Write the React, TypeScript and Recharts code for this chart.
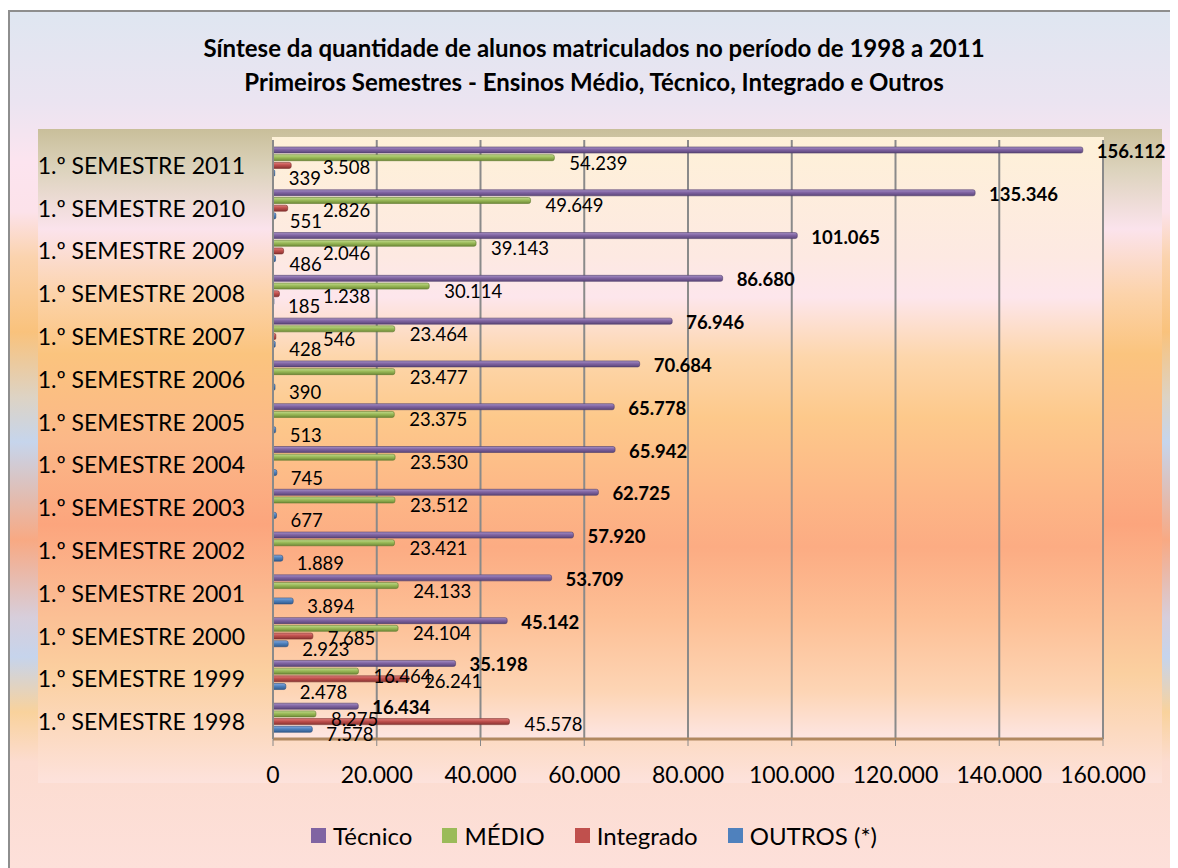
import { Bar, BarChart, CartesianGrid, LabelList, Legend, XAxis, YAxis } from "recharts"

const categories = [
  "1.º SEMESTRE 1998",
  "1.º SEMESTRE 1999",
  "1.º SEMESTRE 2000",
  "1.º SEMESTRE 2001",
  "1.º SEMESTRE 2002",
  "1.º SEMESTRE 2003",
  "1.º SEMESTRE 2004",
  "1.º SEMESTRE 2005",
  "1.º SEMESTRE 2006",
  "1.º SEMESTRE 2007",
  "1.º SEMESTRE 2008",
  "1.º SEMESTRE 2009",
  "1.º SEMESTRE 2010",
  "1.º SEMESTRE 2011",
]
const tecnico = [16434, 35198, 45142, 53709, 57920, 62725, 65942, 65778, 70684, 76946, 86680, 101065, 135346, 156112]
const medio = [8275, 16464, 24104, 24133, 23421, 23512, 23530, 23375, 23477, 23464, 30114, 39143, 49649, 54239]
const integrado = [45578, 26241, 7685, null, null, null, null, null, null, 546, 1238, 2046, 2826, 3508]
const outros = [7578, 2478, 2923, 3894, 1889, 677, 745, 513, 390, 428, 185, 486, 551, 339]
const xTicks = [0, 20000, 40000, 60000, 80000, 100000, 120000, 140000, 160000]

const data = categories.map((cat, i) => ({
  cat,
  tecnico: tecnico[i],
  medio: medio[i],
  integrado: integrado[i],
  outros: outros[i],
}))

const series = [
  { key: "tecnico", name: "Técnico", color: "#8064A2", light: "#a690c6", dark: "#5b4679", stroke: "#4e3c69" },
  { key: "medio", name: "MÉDIO", color: "#9BBB59", light: "#c2da8e", dark: "#6f8b38", stroke: "#5e7a2e" },
  { key: "integrado", name: "Integrado", color: "#C0504D", light: "#e0807d", dark: "#8a3331", stroke: "#772b29" },
  { key: "outros", name: "OUTROS (*)", color: "#4F81BD", light: "#84aade", dark: "#335c8d", stroke: "#2b5082" },
]

const FONT = "Lato, 'Open Sans', sans-serif"

const fmt = (v: number) => String(v).replace(/\B(?=(\d{3})+(?!\d))/g, ".")

const makeLabel =
  (dx: number, dy: number, bold: boolean, minOffset = 0) =>
  (props: any) => {
    const { x, y, width, height, value } = props
    if (value == null) return null
    const lx = Math.max(Number(x) + Number(width) + dx, Number(x) + minOffset)
    return (
      <text
        x={lx}
        y={Number(y) + Number(height) / 2 + dy}
        fontSize={18.5}
        fontFamily={FONT}
        fontWeight={bold ? 700 : 400}
        fill="#000"
        dominantBaseline="central"
      >
        {fmt(Number(value))}
      </text>
    )
  }

const labelFor: Record<string, (p: any) => any> = {
  tecnico: makeLabel(14, 1, true),
  medio: makeLabel(15, 5, false),
  integrado: makeLabel(15, 2, false, 50),
  outros: makeLabel(14, 5, false),
}

const CategoryTick = ({ x, y, payload }: any) => (
  <text x={x} y={y} dy={3.5} textAnchor="end" dominantBaseline="central" fontSize={23} fontFamily={FONT} fill="#000">
    {payload.value}
  </text>
)

const LegendContent = () => (
  <div
    style={{
      height: 30,
      display: "flex",
      justifyContent: "center",
      alignItems: "center",
      gap: 30,
      fontFamily: FONT,
      fontSize: 24,
      color: "#000",
    }}
  >
    {series.map((s) => (
      <div key={s.key} style={{ display: "flex", alignItems: "center", gap: 7 }}>
        <span style={{ width: 15, height: 15, background: s.color, display: "inline-block" }} />
        <span>{s.name}</span>
      </div>
    ))}
  </div>
)

export default function App() {
  return (
    <div
      style={{
        position: "relative",
        marginTop: 2,
        width: 1168,
        height: 856,
        border: "2px solid #8e8e8e",
        borderRight: "none",
        borderBottom: "none",
        overflow: "hidden",
        background:
          "linear-gradient(180deg, #dfe6f1 0px, #ebe4f1 90px, #fce4ef 150px, #fce2ea 200px, #fbd3ae 245px, #f9c27c 320px, #ddd3c4 385px, #c6d5ec 430px, #f8a983 528px, #d7cedb 605px, #c6d4ec 645px, #f9d29c 700px, #fcdcd0 750px, #fde0da 856px)",
      }}
    >
      <div
        style={{
          position: "absolute",
          left: 28,
          top: 117,
          width: 1124,
          height: 654,
          background:
            "linear-gradient(180deg, #c9bf9a 0px, #dcd3bc 40px, #fbe3ec 100px, #fcd3aa 165px, #fbc47e 225px, #fbb888 310px, #fca57d 395px, #fbb990 465px, #fbd0a0 545px, #fde2dc 654px)",
        }}
      />
      <div
        style={{
          position: "absolute",
          left: 262,
          top: 125,
          width: 832,
          height: 603,
          background:
            "linear-gradient(180deg, #fef1d8 0px, #fde9e2 120px, #fde6ec 160px, #fdd6ab 220px, #fdc98b 280px, #fdb686 360px, #fcac83 410px, #fdbf95 480px, #fdd5b5 555px, #fde6e4 603px)",
        }}
      />
      <div
        style={{
          position: "absolute",
          left: 0,
          top: 19,
          width: 1168,
          textAlign: "center",
          fontFamily: FONT,
          fontWeight: 700,
          fontSize: 24,
          lineHeight: "34px",
          color: "#000",
        }}
      >
        <div>Síntese da quantidade de alunos matriculados no período de 1998 a 2011</div>
        <div>Primeiros Semestres - Ensinos Médio, Técnico, Integrado e Outros</div>
      </div>
      <div style={{ position: "absolute", left: 0, top: 0 }}>
        <BarChart
          width={1168}
          height={856}
          data={data}
          layout="vertical"
          barSize={6}
          barGap={1.7}
          margin={{ top: 128, right: 75, bottom: 59, left: 0 }}
        >
          <defs>
            {series.map((s) => (
              <linearGradient key={s.key} id={`g-${s.key}`} x1="0" y1="0" x2="0" y2="1">
                <stop offset="0%" stopColor={s.light} />
                <stop offset="45%" stopColor={s.color} />
                <stop offset="100%" stopColor={s.dark} />
              </linearGradient>
            ))}
          </defs>
          <CartesianGrid horizontal={false} stroke="#8a8a8a" strokeWidth={2} />
          <XAxis
            type="number"
            domain={[0, 160000]}
            ticks={xTicks}
            tickFormatter={fmt}
            height={40}
            tickSize={7}
            tickMargin={21}
            axisLine={{ stroke: "#b08860", strokeWidth: 3 }}
            tickLine={{ stroke: "#888" }}
            tick={{ fontSize: 23, fontFamily: FONT, fill: "#000" }}
            interval={0}
          />
          <YAxis
            type="category"
            dataKey="cat"
            reversed
            width={263}
            tickSize={0}
            tickMargin={28}
            tickLine={false}
            axisLine={{ stroke: "#8a8a8a", strokeWidth: 2 }}
            tick={<CategoryTick />}
            interval={0}
          />
          <Legend content={<LegendContent />} wrapperStyle={{ top: 808, left: 0, width: 1168 }} />
          {series.map((s) => (
            <Bar
              key={s.key}
              dataKey={s.key}
              name={s.name}
              fill={`url(#g-${s.key})`}
              stroke={s.stroke}
              strokeWidth={0.6}
              radius={[0, 2, 2, 0]}
              isAnimationActive={false}
            >
              <LabelList dataKey={s.key} content={labelFor[s.key]} />
            </Bar>
          ))}
        </BarChart>
      </div>
    </div>
  )
}
